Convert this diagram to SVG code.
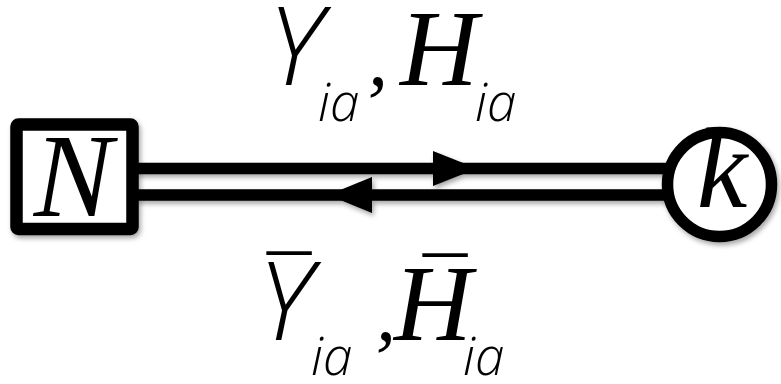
<svg xmlns="http://www.w3.org/2000/svg" width="781" height="384" viewBox="0 0 781 384">
<style>
.ser{font-family:"Liberation Serif","Times New Roman",serif;font-style:italic;fill:#000}
.san{font-family:"Open Sans","Liberation Sans",Arial,sans-serif;font-style:italic;font-weight:300;fill:#000}
.sub{font-family:"Open Sans","Liberation Sans",Arial,sans-serif;font-style:italic;font-weight:300;font-size:53px;fill:#000}
.bar{font-family:"Liberation Sans",Arial,sans-serif;font-size:80px;fill:#000}
.ln{stroke:#000;stroke-width:11.5;fill:none}
</style>
<defs>
<filter id="sh" x="-10%" y="-10%" width="130%" height="140%">
<feDropShadow dx="2" dy="3" stdDeviation="2.5" flood-color="#000" flood-opacity="0.35"/>
</filter>
</defs>
<rect width="781" height="384" fill="#fff"/>
<g id="connectors" filter="url(#sh)">
<line class="ln" x1="136" y1="168.5" x2="668" y2="168.5"/>
<line class="ln" x1="136" y1="195" x2="668" y2="195"/>
<polygon points="433,151 477,168.5 433,186" fill="#000"/>
<polygon points="372,177 328,195 372,213" fill="#000"/>
</g>
<g id="node-N" filter="url(#sh)">
<rect x="16.5" y="124.5" width="116" height="104.5" rx="2" fill="#fff" stroke="#000" stroke-width="12.5"/>
<text class="ser" x="73" y="216" font-size="118" text-anchor="middle">N</text>
</g>
<g id="node-k" filter="url(#sh)">
<circle cx="719.5" cy="184.5" r="52" fill="#fff" stroke="#000" stroke-width="11.5"/>
<text class="ser" x="722" y="207" font-size="114" text-anchor="middle">k</text>
</g>
<g id="label-top">
<text class="san" x="268" y="85" font-size="108">Y</text>
<text class="sub" x="318" y="121">ia</text>
<text class="ser" x="368" y="85" font-size="80">,</text>
<text class="ser" x="400" y="85" font-size="108">H</text>
<text class="sub" x="475" y="121">ia</text>
</g>
<g id="label-bottom">
<text class="bar" x="267" y="312">¯</text>
<text class="san" x="258" y="340" font-size="108">Y</text>
<text class="sub" x="311" y="375">ia</text>
<text class="ser" x="376" y="340" font-size="80">,</text>
<text class="bar" x="423" y="314">¯</text>
<text class="ser" x="394" y="340" font-size="108">H</text>
<text class="sub" x="463" y="375">ia</text>
</g>
</svg>
